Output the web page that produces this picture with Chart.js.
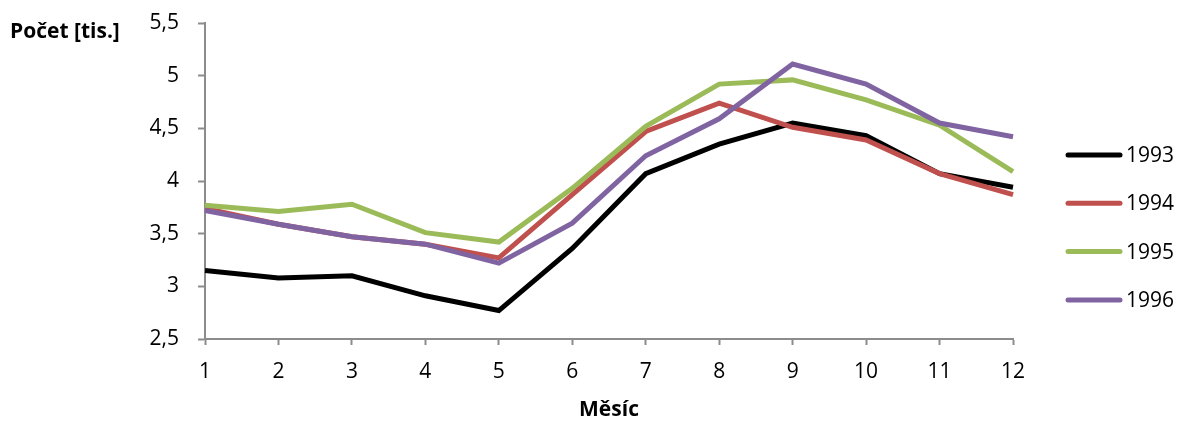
<!DOCTYPE html>
<html lang="cs">
<head>
<meta charset="utf-8">
<title>Počet podle měsíců</title>
<script src="https://cdn.jsdelivr.net/npm/chart.js@4.4.1/dist/chart.umd.min.js"></script>
<style>
  body { margin: 0; background: #fff; }
  #wrap { width: 1181px; height: 423px; }
</style>
</head>
<body>
<div id="wrap"><canvas id="chart" width="1181" height="423"></canvas></div>
<script>
// Data
const months = ['1', '2', '3', '4', '5', '6', '7', '8', '9', '10', '11', '12'];
const years = ['1993', '1994', '1995', '1996'];
const values1993 = [3.15, 3.08, 3.10, 2.91, 2.77, 3.36, 4.07, 4.35, 4.55, 4.43, 4.07, 3.94];
const values1994 = [3.74, 3.59, 3.47, 3.40, 3.27, 3.87, 4.47, 4.74, 4.51, 4.39, 4.07, 3.87];
const values1995 = [3.77, 3.71, 3.78, 3.51, 3.42, 3.93, 4.52, 4.92, 4.96, 4.77, 4.53, 4.09];
const values1996 = [3.72, 3.59, 3.47, 3.40, 3.22, 3.60, 4.24, 4.59, 5.11, 4.92, 4.55, 4.42];
const yMin = 2.5;
const yMax = 5.5;
const yStep = 0.5;

const seriesColors = ['#000000', '#c0504d', '#9bbb59', '#8064a2'];
const axisColor = '#8c8c8c';
const fontFamily = '"Open Sans", "DejaVu Sans", sans-serif';

document.addEventListener('DOMContentLoaded', function() {
  const allValues = [values1993, values1994, values1995, values1996];

  const datasets = years.map((year, i) => ({
    label: year,
    data: allValues[i],
    borderColor: seriesColors[i],
    backgroundColor: seriesColors[i],
    borderWidth: 5,
    pointRadius: 0,
    tension: 0,
    fill: false,
    // later years sit on top
    order: years.length - i
  }));

  // y axis caption written horizontally in the top left corner
  const yCaption = {
    id: 'yCaption',
    afterDraw(chart) {
      const ctx = chart.ctx;
      ctx.save();
      ctx.font = 'bold 21px ' + fontFamily;
      ctx.fillStyle = '#000';
      ctx.textAlign = 'left';
      ctx.textBaseline = 'middle';
      ctx.fillText('Počet [tis.]', 10, 32);
      ctx.restore();
    }
  };

  // legend on the right: short line sample + year
  const sideLegend = {
    id: 'sideLegend',
    afterDraw(chart) {
      const ctx = chart.ctx;
      const x0 = 1068, x1 = 1120, textX = 1126;
      const firstY = 155, rowGap = 48.3;
      ctx.save();
      ctx.font = '21px ' + fontFamily;
      ctx.textBaseline = 'middle';
      ctx.textAlign = 'left';
      chart.data.datasets.forEach((ds, i) => {
        const y = firstY + i * rowGap;
        ctx.strokeStyle = ds.borderColor;
        ctx.lineWidth = 5;
        ctx.lineCap = 'round';
        ctx.beginPath();
        ctx.moveTo(x0, y);
        ctx.lineTo(x1, y);
        ctx.stroke();
        ctx.fillStyle = '#000';
        ctx.fillText(ds.label, textX, y + 1);
      });
      ctx.restore();
    }
  };

  const ctx = document.getElementById('chart').getContext('2d');
  new Chart(ctx, {
    type: 'line',
    data: { labels: months, datasets: datasets },
    plugins: [yCaption, sideLegend],
    options: {
      responsive: false,
      animation: false,
      layout: { padding: { top: 23, right: 168, left: 0, bottom: 0 } },
      plugins: {
        legend: { display: false },
        tooltip: { enabled: false }
      },
      scales: {
        x: {
          type: 'category',
          offset: false,
          grid: {
            drawOnChartArea: false,
            drawTicks: true,
            tickLength: 6,
            tickColor: axisColor,
            tickWidth: 2
          },
          border: { display: true, color: axisColor, width: 2 },
          ticks: {
            color: '#000',
            font: { family: fontFamily, size: 21 },
            padding: 14,
            maxRotation: 0,
            autoSkip: false
          },
          title: {
            display: true,
            text: 'Měsíc',
            color: '#000',
            font: { family: fontFamily, size: 21, weight: 'bold' },
            padding: { top: 0, bottom: 0 }
          },
          afterFit(scale) { scale.height = 84; }
        },
        y: {
          min: yMin,
          max: yMax,
          grid: {
            drawOnChartArea: false,
            drawTicks: true,
            tickLength: 7,
            tickColor: axisColor,
            tickWidth: 2
          },
          border: { display: true, color: axisColor, width: 2 },
          ticks: {
            stepSize: yStep,
            color: '#000',
            font: { family: fontFamily, size: 21 },
            padding: 19,
            callback: function(value) {
              return String(value).replace('.', ',');
            }
          },
          afterFit(scale) {
            scale.width = 205;
            // let the top label stick out above the plot like the original
            scale.paddingTop = 0;
          }
        }
      }
    }
  });
});
</script>
</body>
</html>
